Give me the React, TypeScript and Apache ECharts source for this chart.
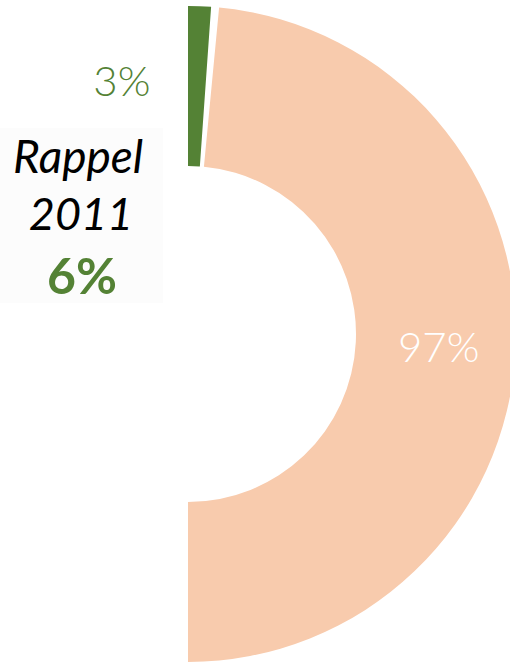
import React, { useEffect, useRef } from "react";
import * as echarts from "echarts";

const categories = ["Oui", "Non"];
const values = [3, 97];
const sliceColors = ["#548235", "#F8CBAD"];
const recallTitle = "Rappel";
const recallYear = "2011";
const recallValue = 6;

export default function App() {
  const ref = useRef<HTMLDivElement>(null);
  useEffect(() => {
    if (!ref.current) return;
    const chart = echarts.init(ref.current, null, { renderer: "svg" });
    const pad = 1.4;
    chart.setOption({
      animation: false,
      backgroundColor: "#ffffff",
      graphic: [
        {
          type: "rect",
          shape: { x: 0, y: 128, width: 163, height: 175 },
          style: { fill: "#fcfcfc" },
          z: 0,
        },
        {
          type: "text",
          x: 78,
          y: 155,
          style: {
            text: recallTitle,
            font: "italic 46px Lato",
            fill: "#000000",
            align: "center",
            verticalAlign: "middle",
          },
          z: 10,
        },
        {
          type: "text",
          x: 81,
          y: 213,
          style: {
            text: recallYear,
            font: "italic 45px Lato",
            fill: "#000000",
            align: "center",
            verticalAlign: "middle",
          },
          z: 10,
        },
        {
          type: "text",
          x: 82,
          y: 275,
          style: {
            text: recallValue + "%",
            font: "bold 50px Lato",
            fill: "#548235",
            align: "center",
            verticalAlign: "middle",
          },
          z: 10,
        },
      ],
      series: [
        {
          type: "pie",
          center: [188, 334],
          radius: [168, 328],
          startAngle: 90 + pad / 2,
          endAngle: -90 - pad / 2,
          padAngle: pad,
          clockwise: true,
          silent: true,
          avoidLabelOverlap: false,
          labelLine: { show: false },
          emphasis: { disabled: true },
          label: {
            show: true,
            position: "inside",
            formatter: "{d}%",
            fontFamily: "Lato",
            fontWeight: 300,
            fontSize: 42,
          },
          data: values.map((v, i) => ({
            name: categories[i],
            value: v,
            itemStyle: { color: sliceColors[i] },
            label:
              i === 0
                ? { color: "#548235", offset: [-75, -3] }
                : { color: "#ffffff" },
          })),
        },
      ],
    });
    return () => chart.dispose();
  }, []);
  return (
    <div
      ref={ref}
      style={{ position: "fixed", left: 0, top: 0, width: 510, height: 662 }}
    />
  );
}
